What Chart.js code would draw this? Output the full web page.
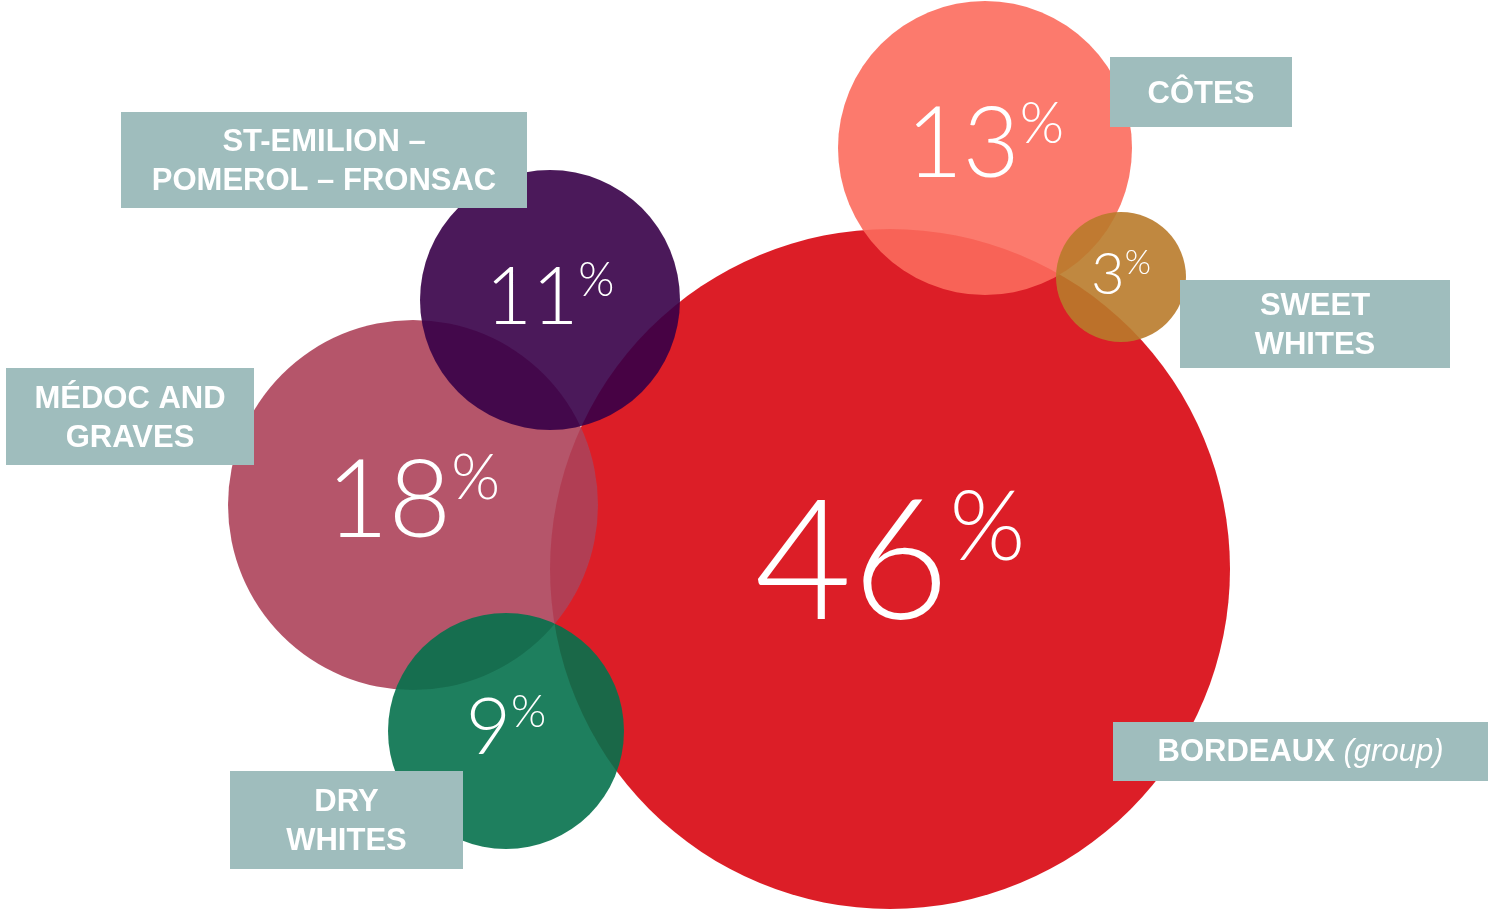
<!DOCTYPE html>
<html>
<head>
<meta charset="utf-8">
<script src="https://cdn.jsdelivr.net/npm/chart.js@4"></script>
<style>
  html, body { margin: 0; padding: 0; background: #ffffff; }
  #wrap { width: 1488px; height: 914px; }
</style>
</head>
<body>
<div id="wrap"><canvas id="bubbleChart" width="1488" height="914"></canvas></div>
<script>
// ----------------------
//  DATA
// ----------------------
const categories = ['BORDEAUX|(group)', 'MÉDOC AND|GRAVES', 'CÔTES', 'ST-EMILION –|POMEROL – FRONSAC', 'DRY|WHITES', 'SWEET|WHITES'];
const shares = [46, 18, 13, 11, 9, 3];
const bubbleX = [890, 413, 985, 550, 506, 1121];
const bubbleY = [569, 505, 148, 300, 731, 277];
const bubbleR = [340, 185, 147, 130, 118, 65];

// colours (alpha so the overlaps show through)
const colors = [
    'rgba(216, 6, 16, 0.9)',
    'rgba(173, 67, 90, 0.9)',
    'rgba(252, 108, 93, 0.9)',
    'rgba(55, 0, 72, 0.9)',
    'rgba(6, 113, 76, 0.9)',
    'rgba(185, 123, 43, 0.9)'
];

// label boxes: [left, top, width, height]
const labelBoxes = [
    [1113, 722, 375, 59],
    [6, 368, 248, 97],
    [1110, 57, 182, 70],
    [121, 112, 406, 96],
    [230, 771, 233, 98],
    [1180, 280, 270, 88]
];
// font size of the percent numbers
const numberSizes = [168, 108, 98, 80, 78, 58];

// ----------------------
//  PLUGIN
// ----------------------
const bubbleText = {
    id: 'bubbleText',
    afterDatasetsDraw(chart) {
        const c = chart.ctx;
        const meta = chart.getDatasetMeta(0);
        c.save();
        c.fillStyle = '#ffffff';
        meta.data.forEach((pt, i) => {
            const s = numberSizes[i];
            const ps = s * 0.58;
            const num = String(shares[i]);
            c.font = '300 ' + s + 'px Lato';
            const nw = c.measureText(num).width;
            c.font = '300 ' + ps + 'px Lato';
            const pw = c.measureText('%').width;
            const gap = 0;
            const total = nw + gap + pw;
            const x0 = pt.x - total / 2;
            const capH = 0.72 * s;
            const base = pt.y - s * 0.06 + capH / 2;
            c.textAlign = 'left';
            c.textBaseline = 'alphabetic';
            c.font = '300 ' + s + 'px Lato';
            c.fillText(num, x0, base);
            c.font = '300 ' + ps + 'px Lato';
            c.fillText('%', x0 + nw + gap, base - capH - s * 0.05 + 0.72 * ps);
        });

        // label boxes
        categories.forEach((name, i) => {
            const b = labelBoxes[i];
            c.fillStyle = '#9fbdbd';
            c.fillRect(b[0], b[1], b[2], b[3]);
            c.fillStyle = '#ffffff';
            c.textBaseline = 'middle';
            const cx = b[0] + b[2] / 2;
            const cy = b[1] + b[3] / 2;
            if (i === 0) {
                // bold name + italic note on one line
                const parts = name.split('|');
                c.font = 'bold 31px "Liberation Sans", Arial';
                const w1 = c.measureText(parts[0] + ' ').width;
                c.font = 'italic 31px "Liberation Sans", Arial';
                const w2 = c.measureText(parts[1]).width;
                let x = cx - (w1 + w2) / 2;
                c.textAlign = 'left';
                c.font = 'bold 31px "Liberation Sans", Arial';
                c.fillText(parts[0], x, cy + 1);
                c.font = 'italic 31px "Liberation Sans", Arial';
                c.fillText(parts[1], x + w1, cy + 1);
            } else {
                const lines = name.split('|');
                c.font = 'bold 31px "Liberation Sans", Arial';
                c.textAlign = 'center';
                const lh = 39;
                const top = cy - (lines.length - 1) * lh / 2;
                lines.forEach((ln, j) => c.fillText(ln, cx, top + j * lh + 2));
            }
        });
        c.restore();
    }
};

// ----------------------
//  CHART
// ----------------------
const points = bubbleX.map((x, i) => ({ x: x, y: bubbleY[i], r: bubbleR[i] }));

new Chart(document.getElementById('bubbleChart').getContext('2d'), {
    type: 'bubble',
    data: {
        labels: categories,
        datasets: [{
            data: points,
            backgroundColor: colors,
            borderWidth: 0,
            hoverRadius: 0,
            clip: false
        }]
    },
    options: {
        responsive: false,
        animation: false,
        events: [],
        layout: { padding: 0, autoPadding: false },
        plugins: {
            legend: { display: false },
            tooltip: { enabled: false }
        },
        scales: {
            x: { type: 'linear', display: false, min: 0, max: 1488 },
            y: { type: 'linear', display: false, min: 0, max: 914, reverse: true }
        }
    },
    plugins: [bubbleText]
});
</script>
</body>
</html>
